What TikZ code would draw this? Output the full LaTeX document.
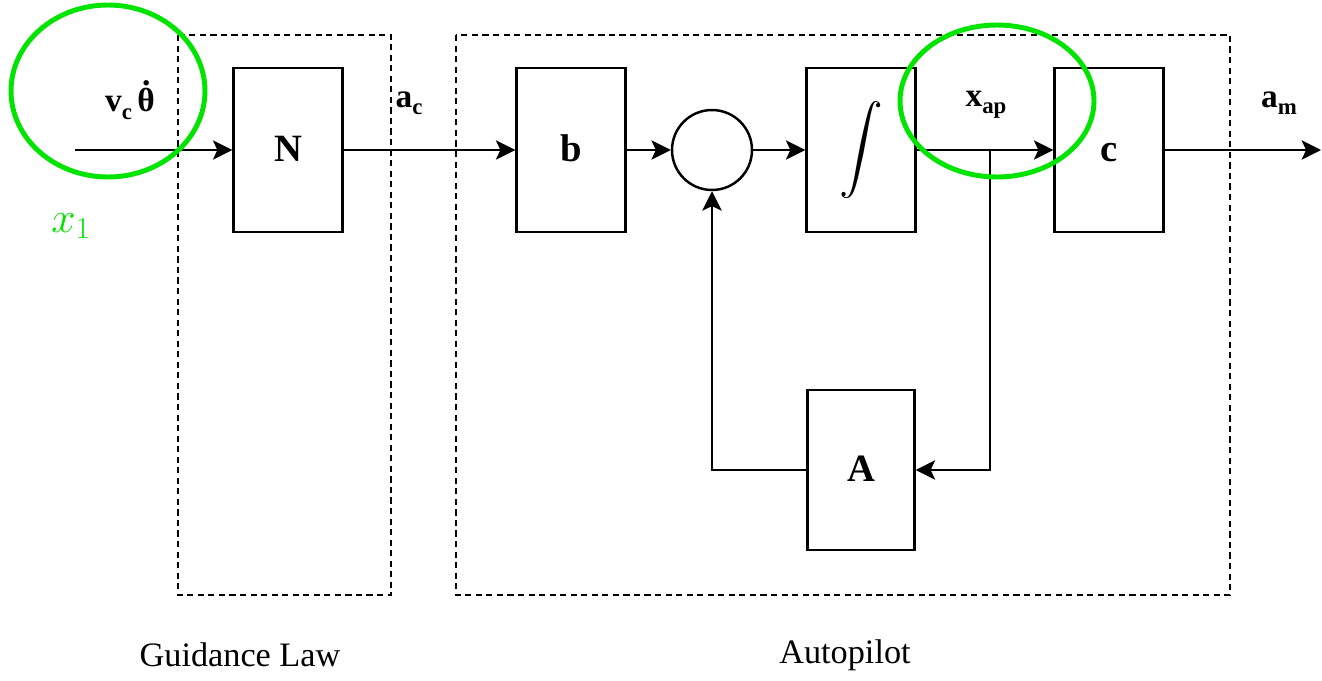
\documentclass[tikz,border=0pt]{standalone}
\usepackage{fontspec}
\setmainfont{Liberation Serif}
\usepackage{amsmath}
\usetikzlibrary{arrows.meta, positioning, shapes.geometric}
\definecolor{colMark}{HTML}{00E400}
\newcommand{\sublab}[2]{#1\raisebox{-0.22em}{\fontsize{13}{14}\selectfont #2}}
\newcommand{\dotover}[1]{\leavevmode\hbox{\ooalign{#1\cr\hidewidth\raisebox{0.8em}{.}\hidewidth\cr}}}

\begin{document}
\begin{tikzpicture}[x=0.02cm,y=-0.02cm,
		font=\fontsize{19}{22}\selectfont\bfseries,
		blk/.style={draw, line width=1.4pt, minimum width=2.18cm, minimum height=3.28cm, inner sep=0pt, font=\fontsize{22}{26}\selectfont\bfseries},
		lab/.style={text height=13.6pt, text depth=0pt},
		sumnode/.style={draw, circle, line width=1.4pt, minimum size=1.6cm, inner sep=0pt},
		wire/.style={line width=1.4pt, -{Stealth[length=11pt,width=11pt,inset=2.5pt]}},
		region/.style={draw, line width=1.3pt, dash pattern=on 3.5pt off 2.5pt},
		ring/.style={draw=colMark, line width=2.8pt},
		caption/.style={font=\fontsize{19.5}{23}\selectfont}]
				\useasboundingbox (0,0) rectangle (1322,680);
				\draw[region] (178,35) rectangle (391,595);
				\draw[region] (456,35) rectangle (1230,595);
				\node[blk, lab] (N) at (288,150) {N};
				\node[blk, lab] (b) at (571,150) {b};
				\node[sumnode] (sum) at (712,150) {};
				\node[blk] (int) at (861,150) {\fontsize{23}{26}\selectfont$\displaystyle\int$};
				\node[blk, lab] (c) at (1109,150) {c};
				\node[blk, lab, minimum width=2.14cm, minimum height=3.2cm] (A) at (861,470) {A};
				\coordinate (in) at (75,150);
				\coordinate (out) at (1321,150);
				\coordinate (tap) at (990,150);
				\draw[wire] (in) -- (N);
				\draw[wire] (N) -- (b);
				\draw[wire] (b) -- (sum);
				\draw[wire] (sum) -- (int);
				\draw[wire] (int) -- (c);
				\draw[wire] (c) -- (out);
				\draw[wire] (tap) |- (A);
				\draw[wire] (A) -| (sum);
				\node (vc) at (130,104) {\sublab{v}{c}\,\dotover{θ}};
				\node (ac) at (409,103) {\sublab{a}{c}};
				\node (xap) at (986,105) {\sublab{x}{ap}};
				\node (am) at (1279,103) {\sublab{a}{m}};
				\node[text=colMark, font=\fontsize{26}{28}\selectfont] (x1) at (71,226) {$x_1$};
				\node[caption] (gl) at (240,655) {Guidance Law};
				\node[caption] (ap) at (845,655) {Autopilot};
				\draw[ring] (108,91) ellipse [x radius=1.94cm, y radius=1.72cm];
				\draw[ring] (997,101) ellipse [x radius=1.94cm, y radius=1.52cm];
		\end{tikzpicture}
\end{document}
